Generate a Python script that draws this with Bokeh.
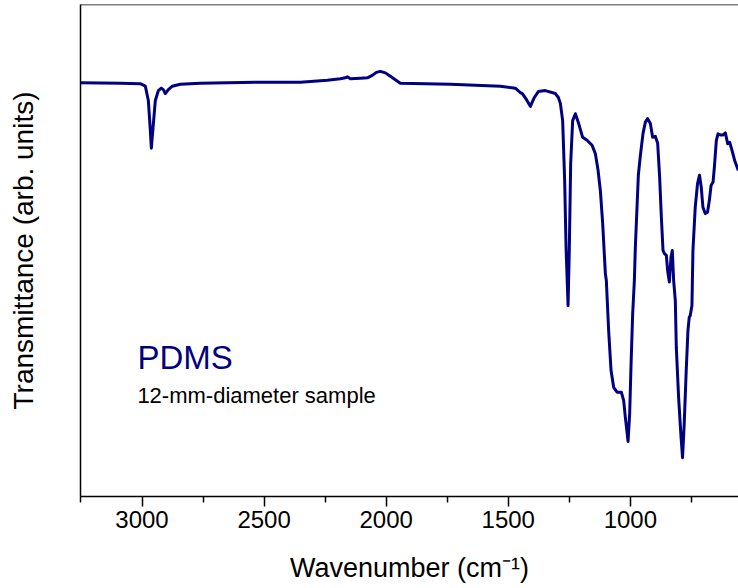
from bokeh.plotting import figure
from bokeh.models import Range1d, FixedTicker, Label, Span
from bokeh.embed import file_html
from bokeh.resources import INLINE

# Wavenumber (cm^-1) and transmittance (arb. units)
wavenumber = [
    3253, 3089, 3007, 2986.5, 2974.2, 2966, 2961.9, 2955.8, 2945.5, 2933.2,
    2921, 2912.8, 2904.6, 2892.3, 2875.9, 2843.1, 2761.2, 2650.6, 2515.4, 2351.6,
    2241, 2187.8, 2167.3, 2159.1, 2146.8, 2105.8, 2077.1, 2056.7, 2040.3, 2023.9,
    2003.4, 1982.9, 1962.5, 1942, 1737.6, 1532.4, 1471, 1450.5, 1442.3, 1425.9,
    1409.5, 1393.1, 1376.7, 1348.1, 1307.1, 1294.8, 1286.6, 1277.2, 1269, 1263.3,
    1255.1, 1249.8, 1244.4, 1236.2, 1225.2, 1211.6, 1195.3, 1177.2, 1156.8, 1143.3,
    1132.2, 1122.8, 1113.3, 1102.3, 1098.3, 1088.8, 1079, 1068.3, 1054.4, 1036.8,
    1027.3, 1020.4, 1009.3, 1002.7, 997, 990.4, 983.5, 979.5, 967.2, 959,
    948, 938.5, 929.2, 918, 908.6, 897.5, 888.1, 880, 873, 866.1,
    860.7, 852.5, 847.2, 840.2, 833.4, 828.1, 822.6, 815.8, 811.7, 802.3,
    792.2, 786.2, 779.3, 771.1, 764.1, 758.8, 754.6, 747.7, 743.6, 734.2,
    724.8, 716.6, 709.7, 702.7, 693.1, 683.7, 676.3, 669.4, 661.2, 655.9,
    647.7, 640.8, 631.3, 620.2, 610.8, 601.4, 593.2, 583.3, 572.7, 560.4,
    557.6,
]
transmittance = [
    84.1, 84.0, 83.9, 83.4, 80.5, 74.4, 70.8, 74.4, 80.5, 82.5,
    83.0, 82.7, 81.9, 82.7, 83.4, 83.8, 84.0, 84.1, 84.2, 84.2,
    84.6, 84.9, 85.1, 85.3, 84.9, 85.0, 85.1, 85.6, 86.2, 86.4,
    86.1, 85.4, 84.7, 84.0, 83.8, 83.4, 83.0, 82.1, 81.9, 80.7,
    79.3, 81.1, 82.3, 82.5, 81.9, 81.1, 79.9, 76.4, 64.2, 50.6,
    38.8, 50.6, 67.7, 76.4, 77.8, 75.8, 73.0, 72.4, 71.4, 69.7,
    66.3, 62.2, 55.5, 45.3, 43.9, 33.7, 25.6, 22.2, 21.2, 21.2,
    19.5, 16.1, 11.2, 16.9, 27.0, 37.2, 43.9, 50.6, 65.3, 69.3,
    73.8, 76.1, 76.8, 75.8, 73.0, 73.2, 71.8, 64.9, 56.8, 50.0,
    49.4, 49.0, 45.9, 43.6, 48.7, 50.0, 43.9, 39.8, 30.3, 20.1,
    12.0, 7.9, 14.8, 25.6, 33.7, 36.4, 36.8, 38.8, 50.0, 58.8,
    63.6, 65.3, 62.9, 58.8, 57.5, 57.8, 60.2, 63.2, 63.9, 66.9,
    72.4, 73.7, 73.5, 73.5, 73.9, 71.7, 72.0, 70.3, 68.3, 66.6,
    66.3,
]

major_ticks = [3000, 2500, 2000, 1500, 1000]
minor_ticks = [3250, 2750, 2250, 1750, 1250, 750]

FONT = "Liberation Sans"
NAVY = "#000080"

p = figure(
    width=738, height=588,
    x_range=Range1d(3252, 557), y_range=Range1d(0, 100),
    output_backend="svg", toolbar_location=None,
    min_border_left=80, min_border_right=0, min_border_top=4, min_border_bottom=92,
)
p.background_fill_color = "white"
p.border_fill_color = "white"
p.outline_line_color = None
p.grid.visible = False

p.line(wavenumber, transmittance, line_color=NAVY, line_width=3, line_join="round")

# x axis
xa = p.xaxis[0]
xa.ticker = FixedTicker(ticks=major_ticks, minor_ticks=minor_ticks)
xa.axis_label = "Wavenumber (cm\u207b\u00b9)"
xa.axis_label_text_font = FONT
xa.axis_label_text_font_size = "27px"
xa.axis_label_text_font_style = "normal"
xa.axis_label_text_color = "black"
xa.axis_label_standoff = 22
xa.major_label_text_font = FONT
xa.major_label_text_font_size = "24px"
xa.major_label_text_color = "black"
xa.major_label_standoff = 4
xa.axis_line_color = "black"
xa.axis_line_width = 1.5
xa.major_tick_line_color = "black"
xa.major_tick_line_width = 1.5
xa.major_tick_out = 10
xa.major_tick_in = 0
xa.minor_tick_line_color = "black"
xa.minor_tick_line_width = 1.5
xa.minor_tick_out = 6
xa.minor_tick_in = 0

# y axis (no ticks)
ya = p.yaxis[0]
ya.ticker = FixedTicker(ticks=[], minor_ticks=[])
ya.axis_label = "Transmittance (arb. units)"
ya.axis_label_text_font = FONT
ya.axis_label_text_font_size = "28px"
ya.axis_label_text_font_style = "normal"
ya.axis_label_text_color = "black"
ya.axis_label_standoff = 42
ya.major_label_text_font_size = "0px"
ya.axis_line_color = "black"
ya.axis_line_width = 1.5
ya.major_tick_line_color = None
ya.minor_tick_line_color = None

# top frame line
p.add_layout(Span(location=100, dimension="width", line_color="black", line_width=1.5))

p.add_layout(Label(x=3019, y=28.3, text="PDMS", text_font=FONT,
                   text_font_size="33px", text_color=NAVY, text_baseline="alphabetic"))
p.add_layout(Label(x=3019, y=20.5, text="12-mm-diameter sample", text_font=FONT,
                   text_font_size="22px", text_color="black", text_baseline="alphabetic"))

open("out.html", "w").write(file_html(p, INLINE))
